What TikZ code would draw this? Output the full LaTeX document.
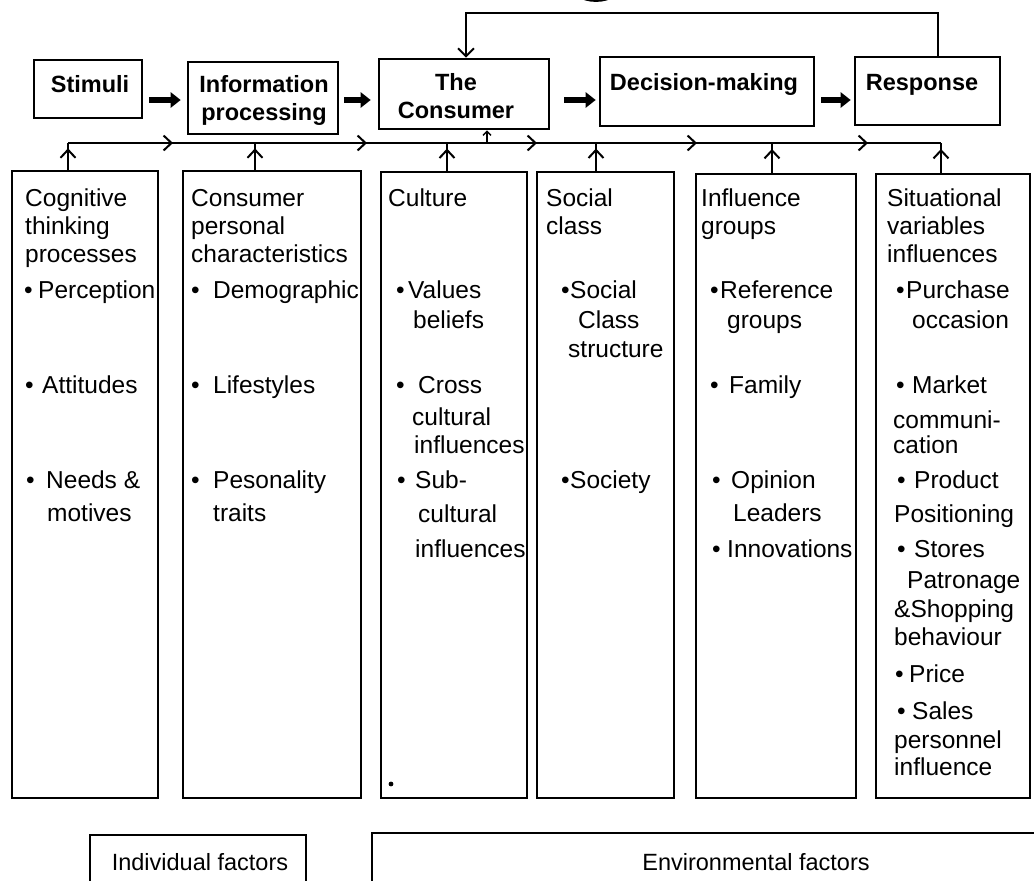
\documentclass[tikz,border=0pt]{standalone}
\usepackage{fontspec}
\setmainfont{Liberation Sans}
\usetikzlibrary{arrows.meta,calc,decorations.markings}

% rectangle node given by its corners: name, left, top, right, bottom
\newcommand\boxat[6][]{\node[box,#1,minimum width={#5-#3},minimum height={#6-#4}] (#2) at ({(#3+#5)/2},{(#4+#6)/2}) {};}
% one line of column text: name, x, baseline, text
\newcommand\colline[4]{\node[colt] (#1) at (#2,#3) {#4};}
% bulleted line: name, bullet x, text x, baseline, text
\newcommand\colbul[5]{\node[colt] (#1) at (#3,#4) {\llap{\makebox[\dimexpr #3pt-#2pt+1pt\relax][l]{•}}#5};}

\tikzset{openbarb/.tip={Straight Barb[length=8pt,width=15pt,line width=2pt]}}

\begin{document}
\begin{tikzpicture}[x=1pt,y=-1pt,
  box/.style={draw=black,line width=2.6pt,inner sep=0pt},
  thinbox/.style={draw=black,line width=1.8pt,inner sep=0pt},
  colt/.style={anchor=base west,inner sep=0pt,font=\fontsize{24.5}{28}\selectfont},
  toplab/.style={anchor=base,inner sep=0pt,font=\fontsize{23.5}{28}\selectfont\bfseries},
  footlab/.style={anchor=base,inner sep=0pt,font=\fontsize{23.5}{28}\selectfont},
  fat/.style={line width=5.5pt,-{Triangle[length=10pt,width=15pt]}},
  upline/.style={line width=2.2pt,postaction={decorate},
    decoration={markings,mark=at position 0.8 with {\arrow{openbarb}}}},
  busline/.style={line width=2.2pt,postaction={decorate},
    decoration={markings,
      mark=at position 105pt with {\arrow{openbarb}},
      mark=at position 299pt with {\arrow{openbarb}},
      mark=at position 469pt with {\arrow{openbarb}},
      mark=at position 629pt with {\arrow{openbarb}},
      mark=at position 800pt with {\arrow{openbarb}}}},
  loopline/.style={line width=2.2pt,-{Straight Barb[length=8pt,width=16pt,line width=2pt]}},
  tinyarrow/.style={line width=1.4pt,-{Straight Barb[length=4pt,width=8pt,line width=1.4pt]}}
]
\useasboundingbox (0,0) rectangle (1034,881);
\clip (0,0) rectangle (1034,881);

% ---- main flow ----
\boxat{stim}{34}{60}{142}{118}
\boxat{info}{188}{62}{338}{134}
\boxat{cons}{379}{59}{549}{129}
\boxat{dec}{600}{57}{814}{126}
\boxat{resp}{855}{57}{1000}{125}

\node[toplab] (stimT) at (90,92) {Stimuli};
\node[toplab] (infoT1) at (264,92) {Information};
\node[toplab] (infoT2) at (264,120) {processing};
\node[toplab] (consT1) at (456,90) {The};
\node[toplab] (consT2) at (456,118) {Consumer};
\node[toplab] (decT) at (704,90) {Decision-making};
\node[toplab] (respT) at (922,90) {Response};

\draw[fat] ($(stim.east |- 0,100)+(6,0)$) -- ($(info.west |- 0,100)+(-6,0)$);
\draw[fat] ($(info.east |- 0,100)+(5,0)$) -- ($(cons.west |- 0,100)+(-7,0)$);
\draw[fat] ($(cons.east |- 0,100)+(14,0)$) -- ($(dec.west |- 0,100)+(-3,0)$);
\draw[fat] ($(dec.east |- 0,100)+(6,0)$) -- ($(resp.west |- 0,100)+(-3,0)$);

% feedback from the response back to the consumer
\coordinate (fbR) at (938,13);
\coordinate (fbL) at (466,13);
\draw[loopline] (resp.north -| fbR) -- (fbR) -- (fbL) -- (cons.north -| fbL);

% shape partly above the top edge
\draw[line width=1.8pt] (596,-16) ellipse [x radius=26, y radius=17];

% ---- influence columns ----
\boxat{c1}{12}{171}{158}{798}
\boxat{c2}{183}{171}{361}{798}
\boxat{c3}{381}{172}{527}{798}
\boxat{c4}{537}{172}{674}{798}
\boxat{c5}{696}{174}{856}{798}
\boxat{c6}{876}{174}{1030}{798}

% collecting line
\coordinate (b1) at (68,143);
\coordinate (b2) at (255,143);
\coordinate (b3) at (447,143);
\coordinate (b4) at (596,143);
\coordinate (b5) at (772,143);
\coordinate (b6) at (941,143);
\coordinate (bc) at (487,143);
\draw[busline] (b1) -- (b6);
\draw[upline] (c1.north -| b1) -- (b1);
\draw[upline] (c2.north -| b2) -- (b2);
\draw[upline] (c3.north -| b3) -- (b3);
\draw[upline] (c4.north -| b4) -- (b4);
\draw[upline] (c5.north -| b5) -- (b5);
\draw[upline] (c6.north -| b6) -- (b6);
\draw[tinyarrow] (bc) -- (bc |- cons.south);

% column 1
\colline{c1a}{25}{206}{Cognitive}
\colline{c1b}{25}{234}{thinking}
\colline{c1c}{25}{262}{processes}
\colbul{c1d}{25}{38}{298}{Perception}
\colbul{c1e}{26}{42}{393}{Attitudes}
\colbul{c1f}{27}{46}{488}{Needs \&}
\colline{c1g}{47}{521}{motives}

% column 2
\colline{c2a}{191}{206}{Consumer}
\colline{c2b}{191}{234}{personal}
\colline{c2c}{191}{262}{characteristics}
\begin{scope}
  % the last letter runs under the right border of the box
  \clip (183,270) rectangle (359,310);
  \colbul{c2d}{192}{213}{298}{Demographic}
\end{scope}
\colbul{c2e}{192}{213}{393}{Lifestyles}
\colbul{c2f}{192}{213}{488}{Pesonality}
\colline{c2g}{213}{521}{traits}

% column 3
\colline{c3a}{388}{206}{Culture}
\colbul{c3b}{397}{408}{298}{Values}
\colline{c3c}{413}{328}{beliefs}
\colbul{c3d}{397}{418}{393}{Cross}
\colline{c3e}{412}{425}{cultural}
\colline{c3f}{414}{453}{influences}
\colbul{c3g}{398}{415}{488}{Sub-}
\colline{c3h}{418}{522}{cultural}
\colline{c3i}{415}{557}{influences}
\fill (391,784) circle [radius=2.4];

% column 4
\colline{c4a}{546}{206}{Social}
\colline{c4b}{546}{234}{class}
\colbul{c4c}{562}{570}{298}{Social}
\colline{c4d}{578}{328}{Class}
\colline{c4e}{568}{357}{structure}
\colbul{c4f}{562}{570}{488}{Society}

% column 5
\colline{c5a}{701}{206}{Influence}
\colline{c5b}{701}{234}{groups}
\colbul{c5c}{711}{720}{298}{Reference}
\colline{c5d}{727}{328}{groups}
\colbul{c5e}{711}{729}{393}{Family}
\colbul{c5f}{713}{731}{488}{Opinion}
\colline{c5g}{733}{521}{Leaders}
\colbul{c5h}{713}{727}{557}{Innovations}

% column 6
\colline{c6a}{887}{206}{Situational}
\colline{c6b}{887}{234}{variables}
\colline{c6c}{887}{262}{influences}
\colbul{c6d}{897}{906}{298}{Purchase}
\colline{c6e}{912}{328}{occasion}
\colbul{c6f}{897}{912}{393}{Market}
\colline{c6g}{893}{428}{communi-}
\colline{c6h}{893}{453}{cation}
\colbul{c6i}{898}{914}{488}{Product}
\colline{c6j}{894}{522}{Positioning}
\colbul{c6k}{898}{914}{557}{Stores}
\colline{c6l}{907}{588}{Patronage}
\colline{c6m}{894}{617}{\&Shopping}
\colline{c6n}{894}{645}{behaviour}
\colbul{c6o}{896}{909}{682}{Price}
\colbul{c6p}{898}{912}{719}{Sales}
\colline{c6q}{894}{748}{personnel}
\colline{c6r}{894}{775}{influence}

% ---- factor groups ----
\boxat[thinbox]{indiv}{90}{835}{306}{900}
\boxat[thinbox]{envir}{372}{833}{1140}{900}
\node[footlab] (indivT) at (200,870) {Individual factors};
\node[footlab] (envirT) at (756,870) {Environmental factors};
\end{tikzpicture}
\end{document}
